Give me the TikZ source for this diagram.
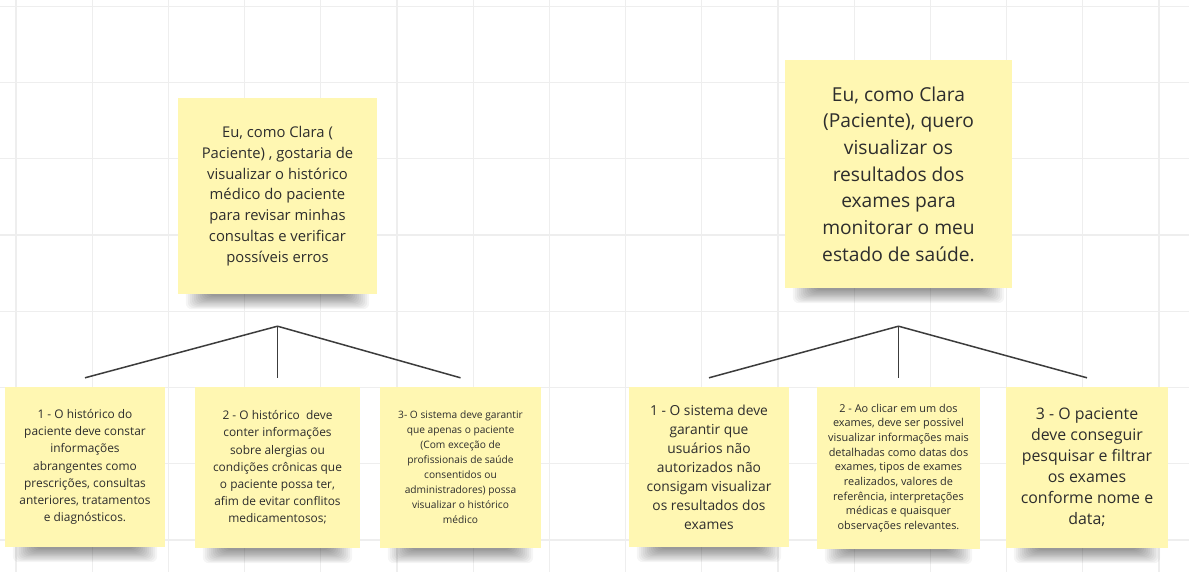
\documentclass[tikz,border=0pt]{standalone}
\usepackage{fontspec}
\setmainfont{Open Sans}
\usetikzlibrary{positioning,calc}
\definecolor{notefill}{RGB}{255,247,178}
\definecolor{noteink}{RGB}{45,45,45}
\definecolor{gridgray}{RGB}{238,238,238}
\definecolor{linegray}{RGB}{60,60,60}
\pgfdeclarelayer{background}
\pgfsetlayers{background,main}
\newcommand{\fsz}[2]{\fontsize{#1}{#2}\selectfont}
\newcommand{\noteshadow}[1]{%
  \foreach \k in {0,...,11}{
    \fill[black,opacity=0.04,rounded corners=6pt] ($(#1.south west)+(8+2*\k,-20)$) rectangle ($(#1.south east)+(-8-2*\k,15-1.2*\k)$);
  }}

\begin{document}
\begin{tikzpicture}[x=1pt,y=-1pt,
    sticky/.style={fill=notefill,text=noteink,align=center,inner sep=0pt},
    conn/.style={draw=linegray,line width=1.5pt},
    gridline/.style={draw=gridgray,line width=1.2pt}]
    \useasboundingbox (0,0) rectangle (1189,572);

    % user stories
    \node[sticky,minimum width=199pt,minimum height=196pt,font=\fsz{14.8}{20.8}] (hist) at (277.5,196)
        {Eu, como Clara (\\Paciente) , gostaria de\\visualizar o histórico\\médico do paciente\\para revisar minhas\\consultas e verificar\\possíveis erros};
    \node[sticky,minimum width=227pt,minimum height=228pt,font=\fsz{19.2}{26.7}] (exam) at (898.5,174)
        {Eu, como Clara\\(Paciente), quero\\visualizar os\\resultados dos\\exames para\\monitorar o meu\\estado de saúde.};

    % criteria
    \node[sticky,minimum width=160pt,minimum height=160pt,font=\fsz{11.9}{17.2}] (h1) at (85,467)
        {1 - O histórico do\\paciente deve constar\\informações\\abrangentes como\\prescrições, consultas\\anteriores, tratamentos\\e diagnósticos.};
    \node[sticky,minimum width=165pt,minimum height=161pt,font=\fsz{11.9}{17.2}] (h2) at (277.5,467.5)
        {2 - O histórico~ deve\\conter informações\\sobre alergias ou\\condições crônicas que\\o paciente possa ter,\\afim de evitar conflitos\\medicamentosos;};
    \node[sticky,minimum width=161pt,minimum height=161pt,font=\fsz{10.2}{15}] (h3) at (460.5,467.5)
        {3- O sistema deve garantir\\que apenas o paciente\\(Com exceção de\\profissionais de saúde\\consentidos ou\\administradores) possa\\visualizar o histórico\\médico};
    \node[sticky,minimum width=160pt,minimum height=160pt,font=\fsz{13.8}{19}] (e1) at (709,467)
        {1 - O sistema deve\\garantir que\\usuários não\\autorizados não\\consigam visualizar\\os resultados dos\\exames};
    \node[sticky,minimum width=163pt,minimum height=162pt,font=\fsz{10.9}{14.7}] (e2) at (898.5,468)
        {2 - Ao clicar em um dos\\exames, deve ser possivel\\visualizar informações mais\\detalhadas como datas dos\\exames, tipos de exames\\realizados, valores de\\referência, interpretações\\médicas e quaisquer\\observações relevantes.};
    \node[sticky,minimum width=162pt,minimum height=161pt,font=\fsz{15.9}{21}] (e3) at (1087,467.5)
        {3 - O paciente\\deve conseguir\\pesquisar e filtrar\\os exames\\conforme nome e\\data;};

    % tree lines
    \coordinate (histfork) at ($(hist.south)+(0,32)$);
    \coordinate (examfork) at ($(exam.south)+(0,38)$);
    \foreach \n in {h1,h2,h3}
        \draw[conn] (histfork) -- ($(\n.north)+(0,-9)$);
    \foreach \n in {e1,e2,e3}
        \draw[conn] (examfork) -- ($(\n.north)+(0,-9)$);

    \begin{pgfonlayer}{background}
        \fill[white] (0,0) rectangle (1189,572);
        \foreach \gx in {16,92.2,...,1189}
            \draw[gridline] (\gx,0) -- (\gx,572);
        \foreach \gy in {6.5,82.7,...,572}
            \draw[gridline] (0,\gy) -- (1189,\gy);
        \foreach \n in {hist,exam,h1,h2,h3,e1,e2,e3}{
            \noteshadow{\n}
        }
    \end{pgfonlayer}
\end{tikzpicture}
\end{document}
